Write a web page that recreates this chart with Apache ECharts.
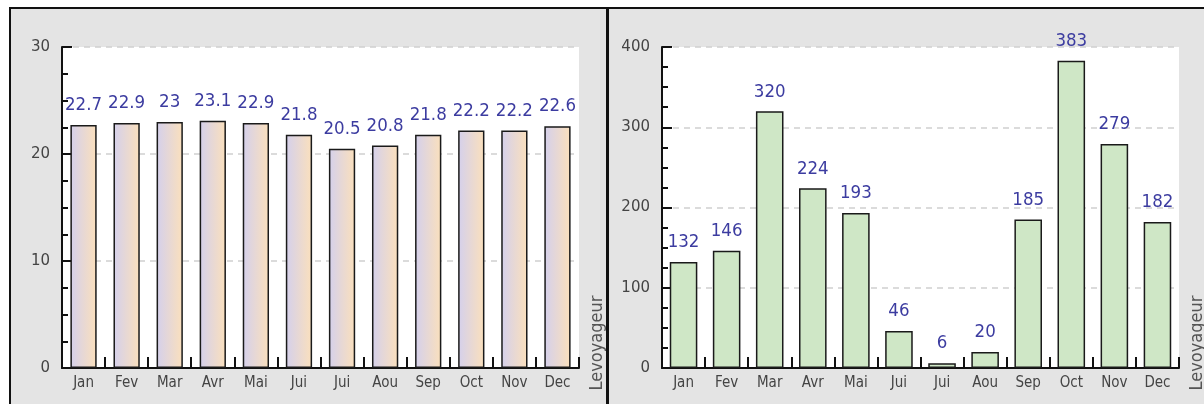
<!DOCTYPE html>
<html>
<head>
<meta charset="utf-8">
<script src="https://cdn.jsdelivr.net/npm/echarts@6/dist/echarts.min.js"></script>
<style>
html,body{margin:0;padding:0;background:#fff;}
#c{width:1204px;height:404px;}
</style>
</head>
<body>
<div id="c"></div>
<script>
const categories = ['Jan','Fev','Mar','Avr','Mai','Jui','Jui','Aou','Sep','Oct','Nov','Dec'];
const temperatureValues = [22.7, 22.9, 23, 23.1, 22.9, 21.8, 20.5, 20.8, 21.8, 22.2, 22.2, 22.6];
const travellerValues = [132, 146, 320, 224, 193, 46, 6, 20, 185, 383, 279, 182];
const leftTicks = { min: 0, max: 30, interval: 10 };
const rightTicks = { min: 0, max: 400, interval: 100 };
const axisName = 'Levoyageur';

const chart = echarts.init(document.getElementById('c'), null, {renderer:'canvas'});

const labelStyle = {
  show: true, position: 'top', distance: 10,
  color: '#3c3ca0', fontSize: 18.5, fontFamily: 'DejaVu Sans Condensed'
};

function xAxis(gridIndex){
  return {
    type: 'category', gridIndex, data: categories,
    axisLine: {lineStyle: {color: '#111', width: 2}},
    axisTick: {show: true, inside: true, length: 11, lineStyle: {color: '#111', width: 2}},
    axisLabel: {color: '#444', fontSize: 15, fontFamily: 'DejaVu Sans Condensed', margin: 8},
    splitLine: {show: false}
  };
}
function yAxis(gridIndex, t){
  return {
    type: 'value', gridIndex, min: t.min, max: t.max, interval: t.interval,
    axisLine: {show: true, lineStyle: {color: '#111', width: 2}},
    axisTick: {show: true, inside: true, length: 10, lineStyle: {color: '#111', width: 2}},
    minorTick: {show: true, splitNumber: 4, length: 6, lineStyle: {color: '#111', width: 2}},
    axisLabel: {color: '#444', fontSize: 15, fontFamily: 'DejaVu Sans', margin: 12},
    splitLine: {show: true, lineStyle: {color: '#cfcfcf', type: [6, 5], width: 1.5}}
  };
}

chart.setOption({
  animation: false,
  backgroundColor: '#fff',
  graphic: [
    {type:'rect', z:-100, shape:{x:10, y:8, width:597, height:430}, style:{fill:'#e4e4e4', stroke:'#111', lineWidth:2}},
    {type:'rect', z:-100, shape:{x:608, y:8, width:620, height:430}, style:{fill:'#e4e4e4', stroke:'#111', lineWidth:2}},
    {type:'text', z:10, x:597, y:343, rotation: Math.PI/2,
     style:{text: axisName, fill:'#555', font:'18px "DejaVu Sans Condensed"', align:'center', verticalAlign:'middle'}},
    {type:'text', z:10, x:1197, y:343, rotation: Math.PI/2,
     style:{text: axisName, fill:'#555', font:'18px "DejaVu Sans Condensed"', align:'center', verticalAlign:'middle'}}
  ],
  grid: [
    {left: 62, top: 47, width: 517, height: 321, show: true, backgroundColor: '#fff', borderWidth: 0},
    {left: 662, top: 47, width: 517, height: 321, show: true, backgroundColor: '#fff', borderWidth: 0}
  ],
  xAxis: [xAxis(0), xAxis(1)],
  yAxis: [yAxis(0, leftTicks), yAxis(1, rightTicks)],
  series: [
    {
      type: 'bar', xAxisIndex: 0, yAxisIndex: 0, data: temperatureValues, barWidth: '61%',
      itemStyle: {
        color: new echarts.graphic.LinearGradient(0, 0, 1, 0, [
          {offset: 0, color: '#d4d0ec'}, {offset: 1, color: '#fbe0bc'}
        ]),
        borderColor: '#1a1a1a', borderWidth: 1.5
      },
      label: labelStyle
    },
    {
      type: 'bar', xAxisIndex: 1, yAxisIndex: 1, data: travellerValues, barWidth: '64%',
      itemStyle: {color: '#cfe7c6', borderColor: '#1a1a1a', borderWidth: 1.5},
      label: labelStyle
    }
  ]
});
</script>
</body>
</html>
